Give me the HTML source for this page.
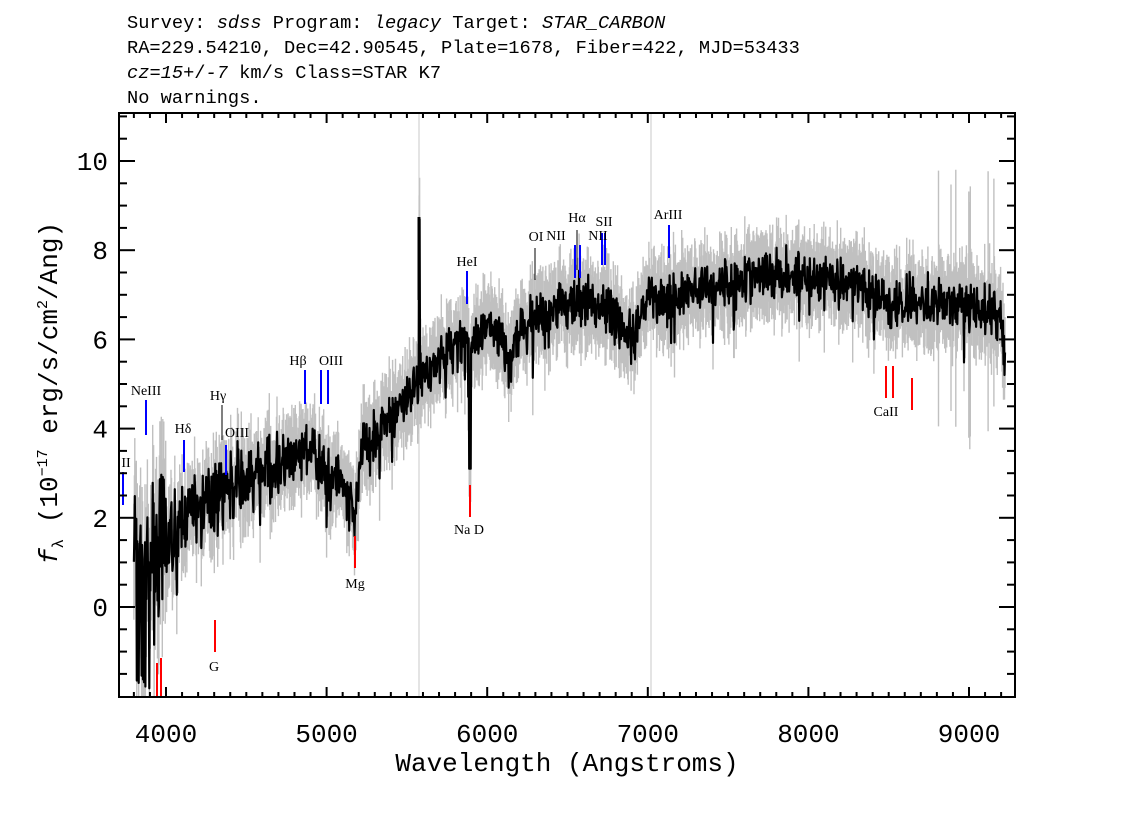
<!DOCTYPE html>
<html><head><meta charset="utf-8"><style>
body{margin:0;background:#fff;width:1134px;height:810px;overflow:hidden}
svg text{font-family:"Liberation Serif",serif}
.t{font-family:"Liberation Mono",monospace;font-size:18.7px}
.m{font-family:"Liberation Mono",monospace}
</style></head><body>
<svg id="s" width="1134" height="810" xmlns="http://www.w3.org/2000/svg">
<text class="t" x="127" y="28">Survey: <tspan font-style="italic">sdss</tspan> Program: <tspan font-style="italic">legacy</tspan> Target: <tspan font-style="italic">STAR_CARBON</tspan></text>
<text class="t" x="127" y="53">RA=229.54210, Dec=42.90545, Plate=1678, Fiber=422, MJD=53433</text>
<text class="t" x="127" y="78"><tspan font-style="italic">cz</tspan>=<tspan font-style="italic">15</tspan>+/<tspan font-style="italic">-7</tspan> km/s Class=STAR K7</text>
<text class="t" x="127" y="103">No warnings.</text>
<g id="plot"></g>
<g id="ax" stroke="#000" stroke-width="2"></g>
<text class="m" x="567" y="771" font-size="26" text-anchor="middle" style="font-family:'Liberation Mono',monospace">Wavelength (Angstroms)</text>
<text transform="translate(57,393) rotate(-90)" font-size="26" text-anchor="middle" style="font-family:'Liberation Mono',monospace"><tspan font-style="italic">f</tspan><tspan font-size="16" dy="6">λ</tspan><tspan dy="-6"> (10</tspan><tspan font-size="15" dy="-10">−17</tspan><tspan dy="10"> erg/s/cm</tspan><tspan font-size="15" dy="-10">2</tspan><tspan dy="10">/Ang)</tspan></text>
</svg>
<script>
var NS="http://www.w3.org/2000/svg",svg=document.getElementById('s'),P=document.getElementById('plot'),A=document.getElementById('ax');
function el(p,t,a,txt){var e=document.createElementNS(NS,t);for(var k in a)e.setAttribute(k,a[k]);if(txt)e.textContent=txt;p.appendChild(e);return e}
function X(l){return 166+(l-4000)*0.1606}
function Y(f){return 607-f*44.6}
var seed=7;function r(){seed=(seed*16807)%2147483647;return seed/2147483647}
function g(){return (r()+r()+r()-1.5)*1.4}
var C=[[3760,1.8],[3800,1.5],[3850,0.8],[3900,1.0],[4000,1.5],[4100,1.9],[4200,2.3],[4400,2.8],[4600,3.0],[4800,3.3],[4900,3.6],[4950,3.2],[5050,2.9],[5150,2.5],[5180,2.0],[5230,3.7],[5400,4.3],[5550,5.0],[5700,5.6],[5850,5.9],[5950,6.0],[6000,6.4],[6100,6.0],[6150,5.4],[6200,6.3],[6400,6.7],[6600,6.9],[6750,6.7],[6850,6.2],[6920,5.9],[7000,6.9],[7200,7.0],[7500,7.3],[7800,7.5],[8000,7.45],[8300,7.2],[8500,6.8],[8700,6.9],[9000,6.8],[9180,6.6],[9210,6.3],[9225,5.3]];
function cont(l){for(var i=0;i<C.length-1;i++)if(l<=C[i+1][0]){var a=C[i],b=C[i+1];return a[1]+(b[1]-a[1])*(l-a[0])/(b[0]-a[0])}return 5.3}
var bl=[],gu=[],gl=[];
for(var l=3800;l<=9225;l+=3){var c=cont(l);var ns=l<4000?1.2:l<4500?0.55:l<5300?0.45:0.38;
var f=c+g()*ns;
if(r()<0.03)f-=0.8*r()+0.3;
if(Math.abs(l-5893)<6)f=3.1; if(Math.abs(l-5578)<3)f=8.7;
if(l<3900&&r()<0.3)f=-1.5-r()*0.5;
var e=(l<4000?1.3:0.45+r()*0.5)+(l>8800&&r()<0.08?2:0);
bl.push([X(l),Y(f)]);gu.push([X(l),Y(Math.min(f+e,11))]);gl.push([X(l),Y(Math.max(f-e,-2.02))]);}
var d="";for(var i=0;i<gu.length;i++)d+="M"+gu[i][0].toFixed(1)+" "+gu[i][1].toFixed(1)+"V"+gl[i][1].toFixed(1);
el(P,'path',{d:d,stroke:'#c0c0c0','stroke-width':1.4,fill:'none'});
el(P,'line',{x1:419,y1:113,x2:419,y2:697,stroke:'#c8c8c8','stroke-width':1});
el(P,'line',{x1:651,y1:113,x2:651,y2:697,stroke:'#c8c8c8','stroke-width':1});
d="M"+bl.map(function(p){return p[0].toFixed(1)+" "+p[1].toFixed(1)}).join("L");
el(P,'path',{d:d,stroke:'#000','stroke-width':2.2,fill:'none','stroke-linejoin':'round'});
el(P,'line',{x1:419,y1:217,x2:419,y2:300,stroke:'#000','stroke-width':3});
el(P,'rect',{x:0,y:0,width:119,height:810,fill:'#fff'});
el(P,'rect',{x:0,y:697,width:1134,height:113,fill:'#fff'});
var L=[[123,472,505,'b'],[146,400,435,'b'],[184,440,472,'b'],[222,405,440,'k'],[226,445,475,'b'],[305,370,404,'b'],[321,370,404,'b'],[328,370,404,'b'],[467,271,304,'b'],[535,248,280,'k'],[575,245,278,'b'],[580,245,278,'b'],[577,230,270,'k'],[602,233,265,'b'],[605,233,265,'b'],[669,225,258,'b'],[215,620,652,'r'],[355,536,568,'r'],[470,485,517,'r'],[886,366,398,'r'],[893,366,398,'r'],[912,378,410,'r'],[157,663,697,'r'],[161,658,697,'r']];
var col={b:'#0000ff',r:'#ff0000',k:'#000'};
L.forEach(function(a){el(P,'line',{x1:a[0],y1:a[1],x2:a[0],y2:a[2],stroke:col[a[3]],'stroke-width':a[3]=='k'?1:2})});
var T=[[126,467,'II'],[146,395,'NeIII'],[183,433,'Hδ'],[218,400,'Hγ'],[237,437,'OIII'],[298,365,'Hβ'],[331,365,'OIII'],[467,266,'HeI'],[536,241,'OI'],[556,240,'NII'],[577,222,'Hα'],[604,226,'SII'],[598,240,'NII'],[668,219,'ArIII'],[214,671,'G'],[355,588,'Mg'],[469,534,'Na D'],[886,416,'CaII']];
T.forEach(function(a){el(P,'text',{x:a[0],y:a[1],'font-size':14,'text-anchor':'middle'},a[2])});
el(A,'rect',{x:119,y:113,width:896,height:584,fill:'none'});
for(var l=3800;l<=9200;l+=100){var x=X(l),M=l%1000==0,h=M?10:5;
el(A,'line',{x1:x,y1:697,x2:x,y2:697-h});el(A,'line',{x1:x,y1:113,x2:x,y2:113+h});
if(M)el(svg,'text',{x:x,y:742,'font-size':26,'text-anchor':'middle',style:"font-family:'Liberation Mono',monospace"},String(l));}
for(var f=-1.5;f<=11;f+=0.5){var y=Y(f),M=f%2==0,w=M?16:8;
el(A,'line',{x1:119,y1:y,x2:119+w,y2:y});el(A,'line',{x1:1015,y1:y,x2:1015-w,y2:y});
if(M)el(svg,'text',{x:108,y:y+9,'font-size':26,'text-anchor':'end',style:"font-family:'Liberation Mono',monospace"},String(f));}
</script>
</body></html>
